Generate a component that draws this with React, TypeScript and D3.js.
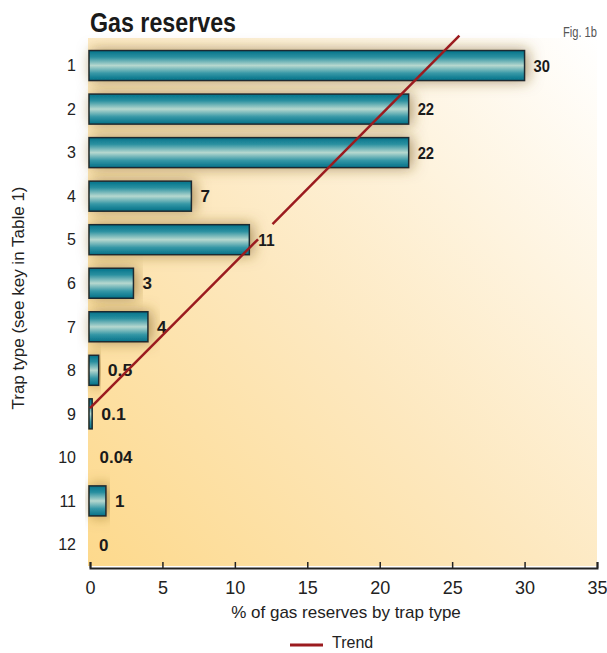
import React from 'react';
import * as d3 from 'd3';

// data
const trapTypes = ['1', '2', '3', '4', '5', '6', '7', '8', '9', '10', '11', '12'];
const reserves = [30, 22, 22, 7, 11, 3, 4, 0.6, 0.15, 0.04, 1.1, 0];
const valueLabels = ['30', '22', '22', '7', '11', '3', '4', '0.5', '0.1', '0.04', '1', '0'];
const xTicks = [0, 5, 10, 15, 20, 25, 30, 35];
// trend line in (value, row index) space, split around the "11" label
const trendLower = [[0, 7.87], [11.6, 3.99]];
const trendUpper = [[12.6, 3.64], [25.5, -0.69]];

const W = 607;
const H = 653;
const margin = { top: 44, right: 10, bottom: 85, left: 90 };
const bold = '"Liberation Sans", Arial, sans-serif';
const plain = '"Liberation Sans", Arial, sans-serif';

export default function App() {
  const axisRef = React.useRef<SVGGElement>(null);
  const innerW = W - margin.left - margin.right;
  const innerH = 566 - margin.top;

  const x = d3.scaleLinear().domain([0, 35]).range([0, innerW]);
  const y = d3.scaleBand<string>().domain(trapTypes).range([0, innerH]).paddingInner(0.31).paddingOuter(0.15);
  const rowY = d3.scaleLinear().domain([0, 11]).range([y('1')! + y.bandwidth() / 2, y('12')! + y.bandwidth() / 2]);

  const line = d3.line<number[]>().x(d => x(d[0])).y(d => rowY(d[1]));

  React.useEffect(() => {
    if (!axisRef.current) return;
    const g = d3.select(axisRef.current);
    g.call(d3.axisBottom(x).tickValues(xTicks).tickSize(-6).tickPadding(13) as any);
    g.select('.domain').attr('stroke', '#222').attr('stroke-width', 2);
    g.selectAll('.tick line').attr('stroke', '#222').attr('stroke-width', 1.5);
    g.selectAll('.tick text').attr('fill', '#222').attr('font-size', 18).attr('font-family', plain);
  }, []);

  return (
    <svg width={W} height={H} style={{ position: 'absolute', left: 0, top: 0, background: '#fff' }}>
      <defs>
        <linearGradient id="bg" x1="0" y1="1" x2="1" y2="0">
          <stop offset="0%" stopColor="#fdd98c" />
          <stop offset="45%" stopColor="#fde8bf" />
          <stop offset="100%" stopColor="#ffffff" />
        </linearGradient>
        <linearGradient id="bar" x1="0" y1="0" x2="0" y2="1">
          <stop offset="0%" stopColor="#03728a" />
          <stop offset="22%" stopColor="#2a90a0" />
          <stop offset="50%" stopColor="#b6d8cf" />
          <stop offset="76%" stopColor="#3597a6" />
          <stop offset="100%" stopColor="#037088" />
        </linearGradient>
        <filter id="glow" x="-20%" y="-60%" width="140%" height="220%">
          <feDropShadow dx="3" dy="0" stdDeviation="7" floodColor="#7a5a20" floodOpacity="0.6" />
        </filter>
      </defs>

      <rect x={margin.left - 2} y={38} width={innerW + 2} height={566 - 38} fill="url(#bg)" />

      <text x={90} y={32} fontFamily={bold} fontWeight="bold" fontSize={28} fill="#1a1a1a" textLength={146} lengthAdjust="spacingAndGlyphs">Gas reserves</text>
      <text x={563} y={37} fontFamily={plain} fontSize={14} fill="#555" textLength={34} lengthAdjust="spacingAndGlyphs">Fig. 1b</text>

      <g transform={`translate(${margin.left},${margin.top})`}>
        {trapTypes.map((t, i) => (
          <rect
            key={t}
            x={-1}
            y={y(t)}
            width={reserves[i] > 0.05 ? x(reserves[i]) + 1 : 0}
            height={y.bandwidth()}
            fill="url(#bar)"
            stroke="#1b2a30"
            strokeWidth={1.5}
            filter={reserves[i] > 0.5 ? 'url(#glow)' : undefined}
          />
        ))}
        {trapTypes.map((t, i) => (
          <text
            key={t}
            x={Math.max(x(reserves[i]) + 9, 8)}
            y={y(t)! + y.bandwidth() / 2}
            dy="0.36em"
            fontFamily={bold}
            fontWeight="bold"
            fontSize={17}
            fill="#1a1a1a"
            textLength={valueLabels[i].length > 1 ? valueLabels[i].length * 8.2 : undefined}
            lengthAdjust="spacingAndGlyphs"
          >
            {valueLabels[i]}
          </text>
        ))}
        {trapTypes.map(t => (
          <text key={t} x={-14} y={y(t)! + y.bandwidth() / 2} dy="0.36em" textAnchor="end" fontFamily={plain} fontSize={16} fill="#222">
            {t}
          </text>
        ))}
        <path d={line(trendLower as any) || ''} fill="none" stroke="#9b1b1f" strokeWidth={2.5} />
        <path d={line(trendUpper as any) || ''} fill="none" stroke="#9b1b1f" strokeWidth={2.5} />
        <g ref={axisRef} transform={`translate(0,${innerH + 2})`} />
      </g>

      <text transform={`translate(24,${298}) rotate(-90)`} textAnchor="middle" fontFamily={plain} fontSize={17} fill="#222">
        Trap type (see key in Table 1)
      </text>
      <text x={346} y={618} textAnchor="middle" fontFamily={plain} fontSize={17} fill="#222">% of gas reserves by trap type</text>
      <line x1={290} x2={323} y1={645} y2={645} stroke="#9b1b1f" strokeWidth={3} />
      <text x={332} y={648} fontFamily={plain} fontSize={16} fill="#222">Trend</text>
    </svg>
  );
}
